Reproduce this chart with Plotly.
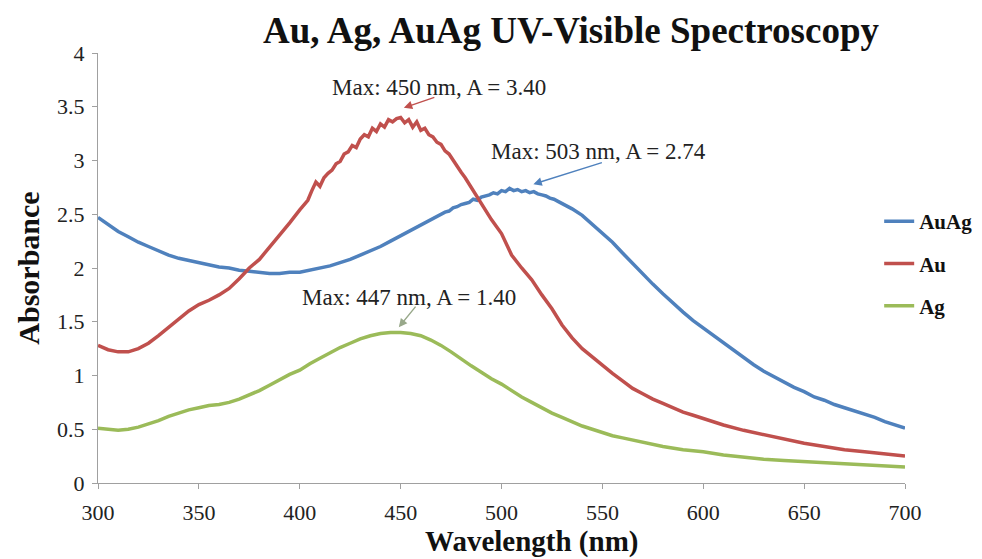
import plotly.graph_objects as go

# ---------------- data ----------------
au_wl = [300, 305, 310, 315, 320, 325, 330, 335, 340, 345, 350, 355, 360, 365, 370, 375, 380, 385, 390, 395, 400,
         402, 404, 406, 408, 410, 412, 414, 416, 418, 420, 422, 424, 426, 428, 430, 432, 434, 436, 438, 440,
         442, 444, 446, 448, 450, 452, 454, 456, 458, 460, 462, 464, 466, 468, 470, 472, 474, 476, 478, 480,
         482, 485, 490, 495, 500, 505, 510, 515, 520, 525, 530, 535, 540, 545, 550, 555, 560, 565, 570, 575,
         580, 585, 590, 595, 600, 610, 620, 630, 640, 650, 660, 670, 680, 690, 700]
au_abs = [1.28, 1.24, 1.22, 1.22, 1.25, 1.30, 1.37, 1.45, 1.53, 1.60, 1.66, 1.70, 1.75, 1.81, 1.90, 2.00, 2.08, 2.19, 2.30, 2.42, 2.54,
          2.58, 2.63, 2.72, 2.80, 2.76, 2.84, 2.88, 2.91, 2.97, 2.99, 3.06, 3.08, 3.14, 3.12, 3.20, 3.24, 3.22, 3.30, 3.27, 3.34,
          3.31, 3.38, 3.36, 3.39, 3.40, 3.35, 3.38, 3.31, 3.36, 3.28, 3.30, 3.24, 3.22, 3.17, 3.15, 3.09, 3.06, 3.00, 2.95, 2.89,
          2.84, 2.75, 2.61, 2.45, 2.32, 2.12, 2.00, 1.89, 1.75, 1.62, 1.47, 1.35, 1.25, 1.17, 1.10, 1.02, 0.95, 0.88, 0.83, 0.78,
          0.74, 0.70, 0.66, 0.63, 0.60, 0.54, 0.49, 0.45, 0.41, 0.37, 0.34, 0.31, 0.29, 0.27, 0.25]

auag_wl = [300, 305, 310, 315, 320, 325, 330, 335, 340, 345, 350, 355, 360, 365, 370, 375, 380, 385, 390, 395, 400,
           405, 410, 415, 420, 425, 430, 435, 440, 445, 450, 455, 460, 465, 470,
           472, 474, 476, 478, 480, 482, 484, 486, 488, 490, 492, 494, 496, 498, 500, 502, 504, 506, 508, 510,
           512, 514, 516, 518, 520, 522, 524, 526, 528, 530, 535, 540, 545, 550, 555, 560, 565, 570, 575, 580,
           585, 590, 595, 600, 605, 610, 615, 620, 625, 630, 635, 640, 645, 650, 655, 660, 665, 670, 675, 680,
           685, 690, 695, 700]
auag_abs = [2.47, 2.40, 2.34, 2.29, 2.24, 2.20, 2.16, 2.12, 2.09, 2.07, 2.05, 2.03, 2.01, 2.00, 1.98, 1.97, 1.96, 1.95, 1.95, 1.96, 1.96,
            1.98, 2.00, 2.02, 2.05, 2.08, 2.12, 2.16, 2.20, 2.25, 2.30, 2.35, 2.40, 2.45, 2.50,
            2.52, 2.53, 2.56, 2.57, 2.59, 2.60, 2.61, 2.64, 2.63, 2.66, 2.67, 2.68, 2.70, 2.69, 2.72, 2.71, 2.74, 2.72, 2.73, 2.71,
            2.72, 2.70, 2.71, 2.69, 2.68, 2.67, 2.65, 2.64, 2.62, 2.60, 2.55, 2.49, 2.41, 2.33, 2.24, 2.14, 2.04, 1.94, 1.85, 1.76,
            1.67, 1.59, 1.51, 1.44, 1.37, 1.30, 1.23, 1.16, 1.10, 1.04, 0.99, 0.94, 0.89, 0.85, 0.80, 0.77, 0.73, 0.70, 0.67, 0.64,
            0.61, 0.57, 0.54, 0.51]

ag_wl = [300, 305, 310, 315, 320, 325, 330, 335, 340, 345, 350, 355, 360, 365, 370, 375, 380, 385, 390, 395, 400,
         405, 410, 415, 420, 425, 430, 435, 440, 445, 450, 455, 460, 465, 470, 475, 480, 485, 490, 495, 500,
         505, 510, 515, 520, 525, 530, 535, 540, 545, 550, 555, 560, 565, 570, 575, 580, 590, 600, 610, 620,
         630, 640, 650, 660, 670, 680, 690, 700]
ag_abs = [0.51, 0.50, 0.49, 0.50, 0.52, 0.55, 0.58, 0.62, 0.65, 0.68, 0.70, 0.72, 0.73, 0.75, 0.78, 0.82, 0.86, 0.91, 0.96, 1.01, 1.05,
          1.11, 1.16, 1.21, 1.26, 1.30, 1.34, 1.37, 1.39, 1.40, 1.40, 1.39, 1.37, 1.33, 1.28, 1.22, 1.15, 1.09, 1.03, 0.97, 0.92,
          0.86, 0.80, 0.75, 0.70, 0.65, 0.61, 0.57, 0.53, 0.50, 0.47, 0.44, 0.42, 0.40, 0.38, 0.36, 0.34, 0.31, 0.29, 0.26, 0.24,
          0.22, 0.21, 0.20, 0.19, 0.18, 0.17, 0.16, 0.15]

x_ticks = [300, 350, 400, 450, 500, 550, 600, 650, 700]
y_ticks = [0, 0.5, 1, 1.5, 2, 2.5, 3, 3.5, 4]
y_tick_labels = ["0", "0.5", "1", "1.5", "2", "2.5", "3", "3.5", "4"]

peak_labels = ["Max: 450 nm, A = 3.40", "Max: 503 nm, A = 2.74", "Max: 447 nm, A = 1.40"]

# ---------------- styles ----------------
C_AUAG = "#4F81BD"
C_AU = "#C0504D"
C_AG = "#9BBB59"
SERIF = "Liberation Serif"

fig = go.Figure()
fig.add_trace(go.Scatter(x=auag_wl, y=auag_abs, mode="lines", name="AuAg", legendgroup="g1",
                         line=dict(color=C_AUAG, width=3.5)))
fig.add_trace(go.Scatter(x=au_wl, y=au_abs, mode="lines", name="Au", legendgroup="g2",
                         line=dict(color=C_AU, width=3.5)))
fig.add_trace(go.Scatter(x=ag_wl, y=ag_abs, mode="lines", name="Ag", legendgroup="g3",
                         line=dict(color=C_AG, width=3.5)))

axis_common = dict(showgrid=False, zeroline=False, showline=True, linecolor="#a0a0a0", linewidth=1,
                   ticks="outside", ticklen=5, tickcolor="#a0a0a0",
                   tickfont=dict(family=SERIF, size=22, color="#222222"))

fig.update_xaxes(range=[300, 700], tickvals=x_ticks, ticklabelstandoff=5, **axis_common)
fig.update_yaxes(range=[0, 4], tickvals=y_ticks, ticktext=y_tick_labels, ticklabelstandoff=3,
                 title=dict(text="<b>Absorbance</b>", font=dict(family=SERIF, size=30, color="#111111"), standoff=8),
                 **axis_common)

annotations = [
    dict(x=469, y=3.68, text=peak_labels[0], showarrow=False),
    dict(x=548, y=3.08, text=peak_labels[1], showarrow=False),
    dict(x=454, y=1.73, text=peak_labels[2], showarrow=False),
]
for a in annotations:
    a.update(xref="x", yref="y", font=dict(family=SERIF, size=23, color="#222222"))

arrows = [
    dict(x=451.6, y=3.49, ax=32, ay=-11, arrowcolor=C_AU),
    dict(x=515.8, y=2.78, ax=70, ay=-22, arrowcolor=C_AUAG),
    dict(x=449.1, y=1.45, ax=18, ay=-22, arrowcolor="#98a88a"),
]
for a in arrows:
    a.update(xref="x", yref="y", text="", showarrow=True, arrowhead=2, arrowsize=1.2, arrowwidth=1.4)

annotations += arrows
annotations.append(dict(xref="paper", yref="paper", x=(533 - 98) / 810, y=-58 / 430, xanchor="center",
                        yanchor="middle", text="<b>Wavelength (nm)</b>", showarrow=False,
                        font=dict(family=SERIF, size=29, color="#111111")))

fig.update_layout(
    width=982, height=559,
    margin=dict(l=90, r=82, t=45, b=84),
    paper_bgcolor="white", plot_bgcolor="white",
    title=dict(text="<b>Au, Ag, AuAg UV-Visible Spectroscopy</b>", x=563 / 982, xanchor="center",
               y=1 - 22 / 559, yanchor="middle", font=dict(family=SERIF, size=37, color="#111111")),
    legend=dict(x=0.968, y=(483 - 201) / 430, xanchor="left", yanchor="top", traceorder="grouped",
                font=dict(family=SERIF, size=21, color="#111111", weight="bold"), bgcolor="rgba(0,0,0,0)",
                itemwidth=30, tracegroupgap=12),
    annotations=annotations,
    showlegend=True,
)

fig.write_html("out.html")
